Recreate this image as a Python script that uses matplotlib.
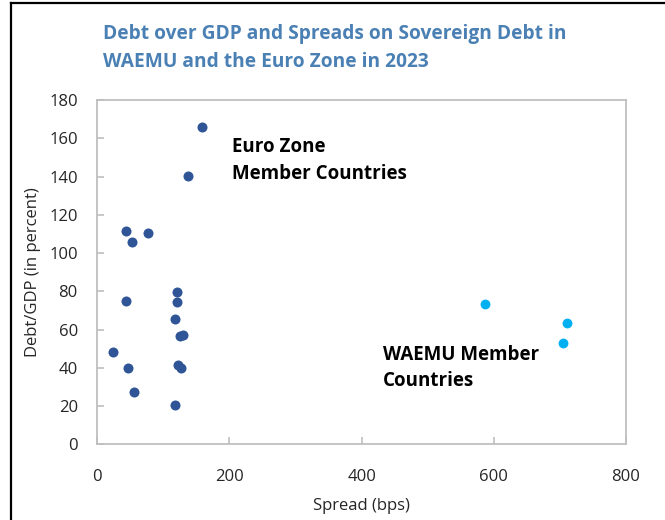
import matplotlib
matplotlib.use("Agg")
from matplotlib import pyplot as plt
from matplotlib.lines import Line2D

plt.rcParams['font.family'] = ['Open Sans', 'DejaVu Sans']

# Euro Zone member countries: spread (bps), debt/GDP (%)
euro_spread = [158, 137, 43, 76, 53, 43, 121, 121, 118, 125, 129,
               24, 46, 122, 126, 56, 117]
euro_debt = [166, 140.4, 111.5, 110.3, 105.8, 75, 79.5, 74.3, 65.5, 56.8, 57.4,
             48.4, 39.8, 41.7, 40.2, 27.3, 20.8]

# WAEMU member countries
waemu_spread = [586, 710, 704]
waemu_debt = [73.3, 63.3, 53.1]

xticks = [0, 200, 400, 600, 800]
yticks = list(range(0, 181, 20))

fig = plt.figure(figsize=(6.65, 5.2), dpi=100)
ax = fig.add_axes([0.1463, 0.1452, 0.7951, 0.6625])

ax.scatter(euro_spread, euro_debt, s=52, color='#2F5597', zorder=3, linewidths=0)
ax.scatter(waemu_spread, waemu_debt, s=50, color='#00B0F0', zorder=3, linewidths=0)

ax.set_xlim(0, 800)
ax.set_ylim(0, 180)
ax.set_xticks(xticks)
ax.set_yticks(yticks)

for sp in ax.spines.values():
    sp.set_color('#BFBFBF')
    sp.set_linewidth(1.3)

ax.tick_params(direction='in', length=5, width=1.2, color='#BFBFBF',
               labelsize=12, labelcolor='#262626')
ax.tick_params(axis='x', pad=18)
ax.tick_params(axis='y', pad=14)

ax.set_xlabel("Spread (bps)", fontsize=12, color='#262626', labelpad=9)
ax.set_ylabel("Debt/GDP (in percent)", fontsize=12, color='#262626', labelpad=6)

# annotations
ax.text(204, 148.5, "Euro Zone\nMember Countries", fontsize=13.5, fontweight='bold',
        color='black', linespacing=1.45, va='center', ha='left')
ax.text(432, 40, "WAEMU Member\nCountries", fontsize=13.5, fontweight='bold',
        color='black', linespacing=1.45, va='center', ha='left')

# title
fig.text(102.7 / 665, 1 - 24.5 / 520,
         "Debt over GDP and Spreads on Sovereign Debt in\nWAEMU and the Euro Zone in 2023",
         fontsize=13.8, fontweight='bold', color='#4A80B4', ha='left', va='top',
         linespacing=1.5)

# outer frame (left and top only)
fig.add_artist(Line2D([11 / 665, 11 / 665], [0, 1 - 3 / 520], color='black',
                      linewidth=1.6, transform=fig.transFigure))
fig.add_artist(Line2D([11 / 665, 1], [1 - 3 / 520, 1 - 3 / 520], color='black',
                      linewidth=1.6, transform=fig.transFigure))

fig.savefig("out.png", dpi=100)
